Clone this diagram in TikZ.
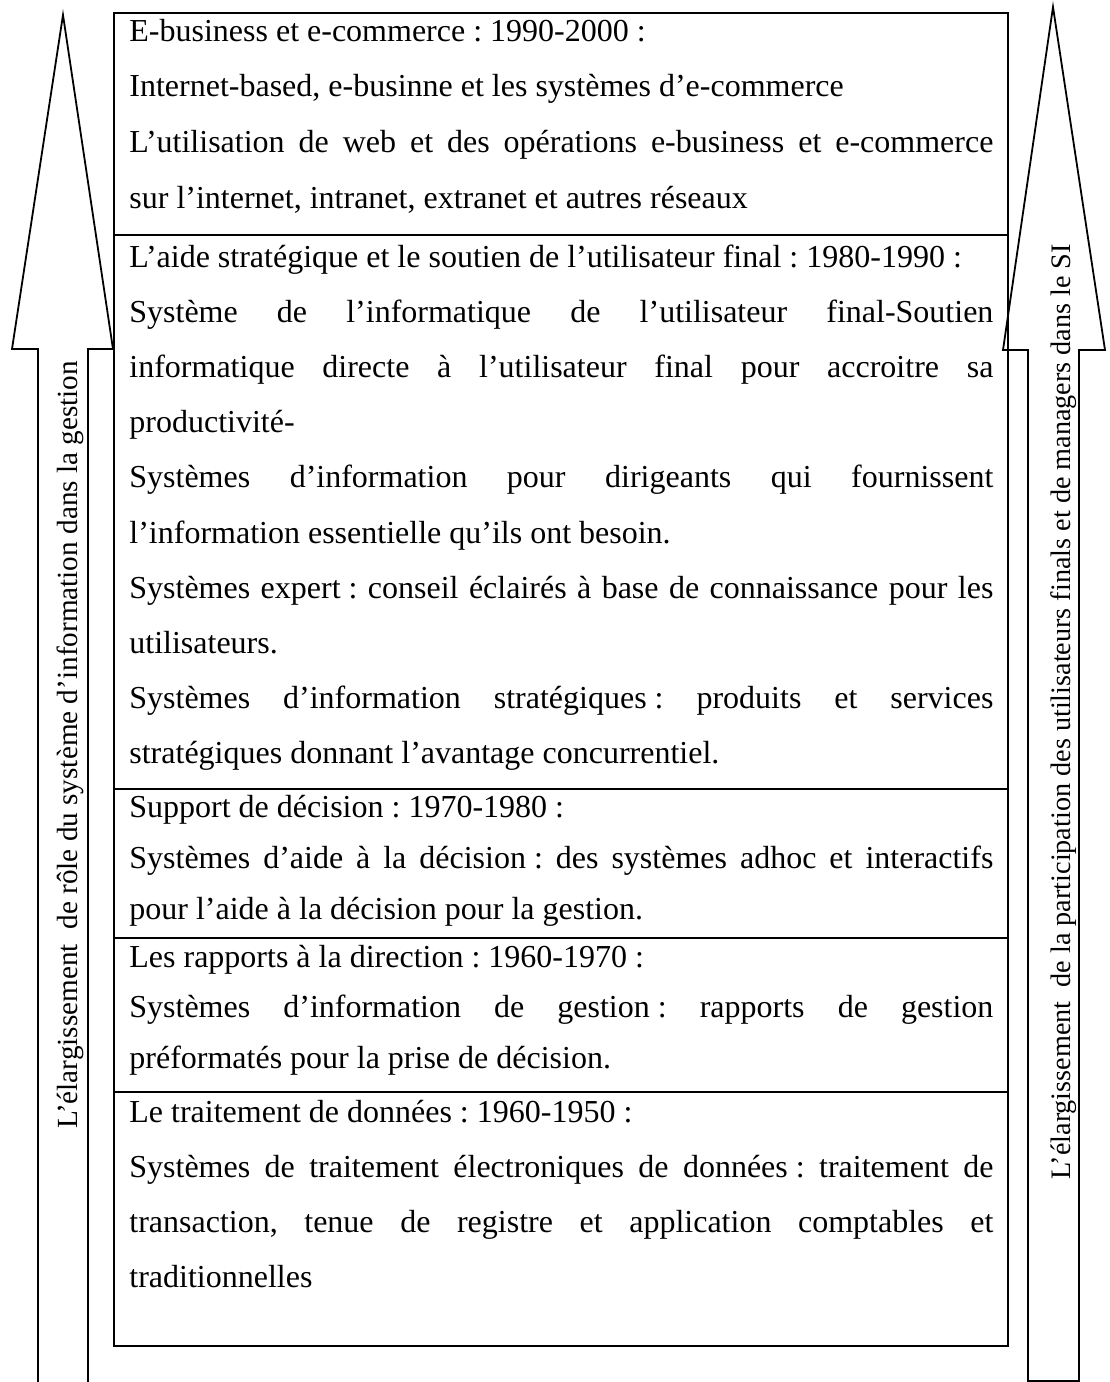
\documentclass[tikz,border=0pt]{standalone}
\usepackage{fontspec}
\setmainfont{Liberation Serif}
\frenchspacing
\newcommand\jline[1]{\makebox[432pt][s]{#1}}
\newcommand\colsp{\kern0.25em}
\begin{document}
\begin{tikzpicture}[x=0.5pt,y=-0.5pt,
  frame/.style={line width=1.3pt},
  bigarrow/.style={line width=0.9pt},
  txt/.style={anchor=base west,inner sep=0pt,font=\fontsize{16}{19}\selectfont},
  side/.style={anchor=base,inner sep=0pt,rotate=90,font=\fontsize{14.6}{17}\selectfont}]
\useasboundingbox (0,0) rectangle (1109,1382);

% left upward arrow (open at the bottom)
\draw[bigarrow] (38,1382) -- (38,349) -- (12,349) -- (63,15) -- (113,349) -- (88,349) -- (88,1382);
% right upward arrow
\draw[bigarrow] (1028,1381) -- (1028,350) -- (1003,350) -- (1053,7) -- (1105,350) -- (1079,350) -- (1079,1381) -- cycle;

% table of periods
\draw[frame] (114,13) rectangle (1008,1346);
\coordinate (d1l) at (114,235);  \coordinate (d1r) at (1008,235);
\coordinate (d2l) at (114,789);  \coordinate (d2r) at (1008,789);
\coordinate (d3l) at (114,938);  \coordinate (d3r) at (1008,938);
\coordinate (d4l) at (114,1092); \coordinate (d4r) at (1008,1092);
\draw[frame] (d1l) -- (d1r);
\draw[frame] (d2l) -- (d2r);
\draw[frame] (d3l) -- (d3r);
\draw[frame] (d4l) -- (d4r);

% 1990-2000
\node[txt] (a1) at (129,41) {E-business et e-commerce : 1990-2000 :};
\node[txt] (a2) at (129,96) {Internet-based, e-businne et les systèmes d’e-commerce};
\node[txt] (a3) at (129,152) {\jline{L’utilisation de web et des opérations e-business et e-commerce}};
\node[txt] (a4) at (129,208) {sur l’internet, intranet, extranet et autres réseaux};

% 1980-1990
\node[txt] (b1) at (129,267) {L’aide stratégique et le soutien de l’utilisateur final : 1980-1990 :};
\node[txt] (b2) at (129,322) {\jline{Système de l’informatique de l’utilisateur final-Soutien}};
\node[txt] (b3) at (129,377) {\jline{informatique directe à l’utilisateur final pour accroitre sa}};
\node[txt] (b4) at (129,432) {productivité-};
\node[txt] (b5) at (129,487) {\jline{Systèmes d’information pour dirigeants qui fournissent}};
\node[txt] (b6) at (129,543) {l’information essentielle qu’ils ont besoin.};
\node[txt] (b7) at (129,598) {\jline{Systèmes expert\colsp: conseil éclairés à base de connaissance pour les}};
\node[txt] (b8) at (129,653) {utilisateurs.};
\node[txt] (b9) at (129,708) {\jline{Systèmes d’information stratégiques\colsp: produits et services}};
\node[txt] (b10) at (129,763) {stratégiques donnant l’avantage concurrentiel.};

% 1970-1980
\node[txt] (c1) at (129,817) {Support de décision : 1970-1980 :};
\node[txt] (c2) at (129,868) {\jline{Systèmes d’aide à la décision\colsp: des systèmes adhoc et interactifs}};
\node[txt] (c3) at (129,919) {pour l’aide à la décision pour la gestion.};

% 1960-1970
\node[txt] (e1) at (129,967) {Les rapports à la direction : 1960-1970 :};
\node[txt] (e2) at (129,1017) {\jline{Systèmes d’information de gestion\colsp: rapports de gestion}};
\node[txt] (e3) at (129,1068) {préformatés pour la prise de décision.};

% 1950-1960
\node[txt] (f1) at (129,1122) {Le traitement de données : 1960-1950 :};
\node[txt] (f2) at (129,1177) {\jline{Systèmes de traitement électroniques de données\colsp: traitement de}};
\node[txt] (f3) at (129,1232) {\jline{transaction, tenue de registre et application comptables et}};
\node[txt] (f4) at (129,1287) {traditionnelles};

% labels inside the arrows
\node[side] (lt) at (77,745) {L’élargissement\ \ de rôle du système d’information dans la gestion};
\node[side,font=\fontsize{14.1}{17}\selectfont] (rt) at (1070,712) {L’élargissement\ \ de la participation des utilisateurs finals et de managers dans le SI};
\end{tikzpicture}
\end{document}
